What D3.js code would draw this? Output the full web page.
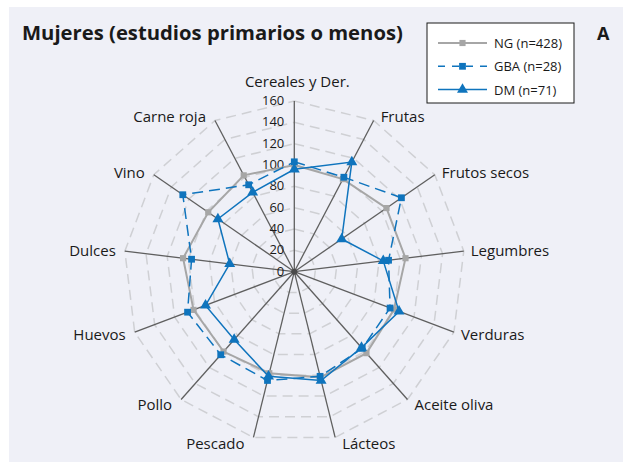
<!DOCTYPE html>
<html>
<head>
<meta charset="utf-8">
<script src="https://cdn.jsdelivr.net/npm/d3@7"></script>
<style>
  html, body { margin: 0; padding: 0; background: #ffffff; }
  svg { display: block; }
  text { font-family: "Open Sans", "Noto Sans", sans-serif; fill: #1a1a1a; }
</style>
</head>
<body>
<svg id="chart" width="623" height="463"></svg>
<script>
// Food-group consumption index, women with primary education or less
const categories = ["Cereales y Der.", "Frutas", "Frutos secos", "Legumbres", "Verduras",
  "Aceite oliva", "Lácteos", "Pescado", "Pollo", "Huevos", "Dulces", "Vino", "Carne roja"];
const ngValues  = [100,  98, 105, 105, 100, 102, 102,  98, 100, 101, 105,  98, 102];
const gbaValues = [103, 100, 122,  89,  96,  96, 101, 105, 104, 107,  97, 127,  92];
const dmValues  = [ 96, 116,  54,  84, 105,  95, 105, 101,  85,  89,  61,  87,  84];
const seriesNames = ["NG (n=428)", "GBA (n=28)", "DM (n=71)"];
const tickValues = [0, 20, 40, 60, 80, 100, 120, 140, 160];
const chartTitle = "Mujeres (estudios primarios o menos)";
const panelLetter = "A";

const svg = d3.select("#chart");
const W = 623, H = 463;
const cx = 294.3, cy = 271.7, R = 170.7;
const blue = "#0f74bd", gray = "#a6a6a6";

// panel background
svg.append("rect").attr("x", 9).attr("y", 7).attr("width", W - 9).attr("height", 455)
  .attr("fill", "#eff0f7");

const r = d3.scaleLinear().domain([0, 160]).range([0, R]);
const n = categories.length;
const angle = d3.scaleLinear().domain([0, n]).range([0, 2 * Math.PI]);

const g = svg.append("g").attr("transform", `translate(${cx},${cy})`);

// dashed polygonal grid
const gridLine = d3.lineRadial()
  .angle((d, i) => angle(i))
  .radius(d => r(d))
  .curve(d3.curveLinearClosed);
g.selectAll("path.grid").data(tickValues.slice(1)).join("path")
  .attr("class", "grid")
  .attr("d", v => gridLine(d3.range(n).map(() => v)))
  .attr("fill", "none").attr("stroke", "#cfd0d4").attr("stroke-width", 1.5)
  .attr("stroke-dasharray", "10,6");

// spokes
const px = (i, v) => r(v) * Math.sin(angle(i));
const py = (i, v) => -r(v) * Math.cos(angle(i));
g.selectAll("line.spoke").data(d3.range(n)).join("line")
  .attr("class", "spoke")
  .attr("x1", 0).attr("y1", 0)
  .attr("x2", i => px(i, 160)).attr("y2", i => py(i, 160))
  .attr("stroke", "#5f5f5f").attr("stroke-width", 1.3);
g.append("circle").attr("r", 3).attr("fill", "#4a4a4a");

// radial tick labels on the top spoke
g.selectAll("text.tick").data(tickValues).join("text")
  .attr("class", "tick")
  .attr("x", -10).attr("y", v => -r(v) - 1)
  .attr("text-anchor", "end").attr("dominant-baseline", "central")
  .attr("font-size", 13)
  .text(v => v);

// category labels beyond the spoke ends
g.selectAll("text.cat").data(categories).join("text")
  .attr("class", "cat")
  .attr("font-size", 15)
  .attr("dominant-baseline", "central")
  .each(function (d, i) {
    const a = angle(i);
    const ex = px(i, 160), ey = py(i, 160);
    const s = Math.sin(a);
    const t = d3.select(this);
    if (Math.abs(s) < 0.01) {
      t.attr("text-anchor", "middle").attr("x", ex + 3).attr("y", ey - 20);
    } else if (s > 0) {
      t.attr("text-anchor", "start").attr("x", ex + 7).attr("y", ey - 5.5 * Math.cos(a));
    } else {
      t.attr("text-anchor", "end").attr("x", ex - 9).attr("y", ey - 5.5 * Math.cos(a));
    }
  })
  .text(d => d);

// series
const series = [
  { name: seriesNames[0], values: ngValues,  color: gray, width: 2,   dash: null,   symbol: d3.symbolSquare,   size: 38 },
  { name: seriesNames[1], values: gbaValues, color: blue, width: 1.5, dash: "11,6", symbol: d3.symbolSquare,   size: 46 },
  { name: seriesNames[2], values: dmValues,  color: blue, width: 1.5, dash: null,   symbol: d3.symbolTriangle, size: 52 }
];
const seriesLine = d3.lineRadial()
  .angle((d, i) => angle(i))
  .radius(d => r(d))
  .curve(d3.curveLinearClosed);

series.forEach(s => {
  const sg = g.append("g");
  sg.append("path")
    .attr("d", seriesLine(s.values))
    .attr("fill", "none").attr("stroke", s.color).attr("stroke-width", s.width)
    .attr("stroke-dasharray", s.dash);
  sg.selectAll("path.mk").data(s.values).join("path")
    .attr("class", "mk")
    .attr("d", d3.symbol().type(s.symbol).size(s.size))
    .attr("transform", (v, i) => `translate(${px(i, v)},${py(i, v)})`)
    .attr("fill", s.color);
});

// title, fitted to its column width
const title = svg.append("text")
  .attr("x", 22).attr("y", 40)
  .attr("font-weight", 700).attr("font-size", 18)
  .text(chartTitle);
const tl = title.node().getComputedTextLength();
title.attr("font-size", 18 * 381 / tl);

svg.append("text").attr("x", 597).attr("y", 40)
  .attr("font-weight", 700).attr("font-size", 18)
  .text(panelLetter);

// legend
const lg = svg.append("g").attr("transform", "translate(427,23)");
lg.append("rect").attr("x", 0).attr("y", 0).attr("width", 147).attr("height", 80)
  .attr("fill", "#ffffff").attr("stroke", "#1a1a1a").attr("stroke-width", 1);
series.forEach((s, k) => {
  const y = 20 + k * 23.3;
  lg.append("line").attr("x1", 11).attr("x2", 60).attr("y1", y).attr("y2", y)
    .attr("stroke", s.color).attr("stroke-width", s.width)
    .attr("stroke-dasharray", s.dash ? "7,7" : null);
  lg.append("path")
    .attr("d", d3.symbol().type(s.symbol).size(s.size)())
    .attr("transform", `translate(35.5,${y})`)
    .attr("fill", s.color);
  lg.append("text").attr("x", 67).attr("y", y).attr("dominant-baseline", "central")
    .attr("font-size", 13).text(s.name);
});
</script>
</body>
</html>
